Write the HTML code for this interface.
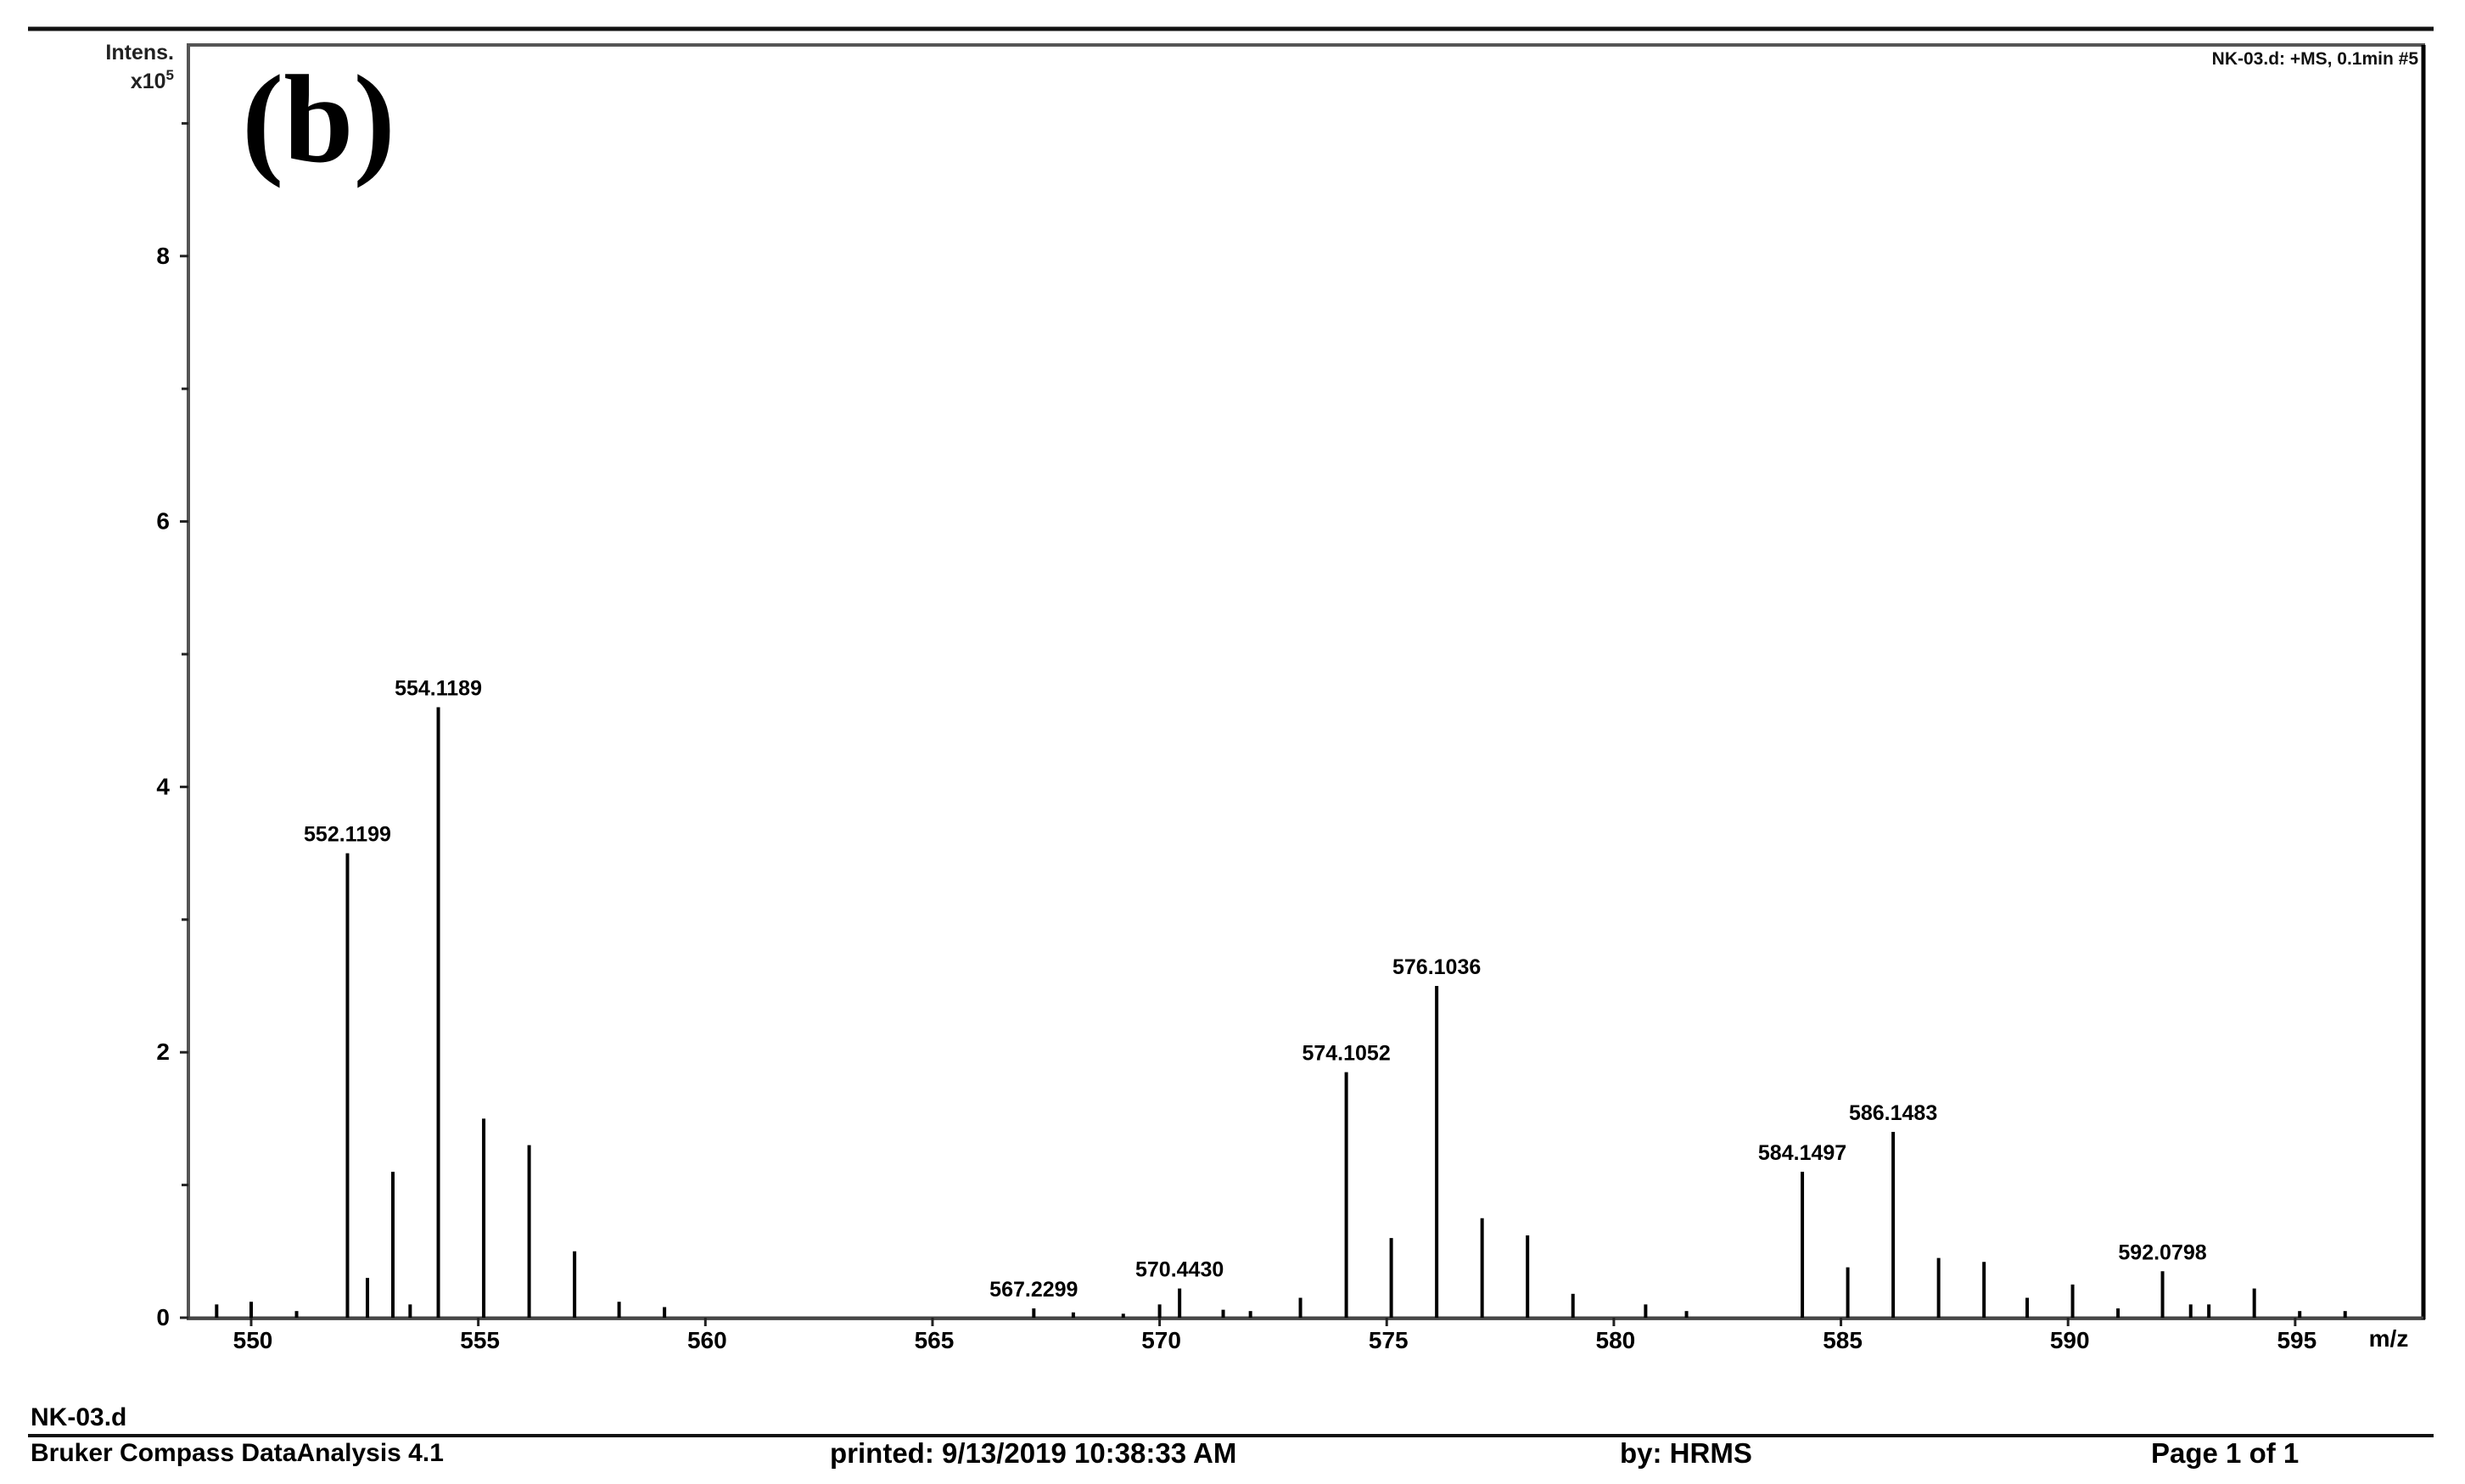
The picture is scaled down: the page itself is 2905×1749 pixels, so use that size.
<!DOCTYPE html>
<html><head><meta charset="utf-8"><style>
html,body{margin:0;padding:0;background:#fff;}
svg{display:block;font-family:"Liberation Sans",sans-serif;}
</style></head><body>
<svg width="2905" height="1749" viewBox="0 0 2905 1749" xmlns="http://www.w3.org/2000/svg">
<line x1="33" y1="34" x2="2868" y2="34" stroke="#111" stroke-width="5"/>
<rect x="222" y="53" width="2634" height="1501" fill="none" stroke="#555" stroke-width="4"/>
<line x1="2856" y1="53" x2="2856" y2="1555" stroke="#000" stroke-width="5"/>
<text x="205" y="70" font-size="25" font-weight="600" text-anchor="end" fill="#222">Intens.</text>
<text x="205" y="104" font-size="25" font-weight="600" text-anchor="end" fill="#222">x10<tspan font-size="17" dy="-10">5</tspan></text>
<text x="285" y="190" font-size="148" font-weight="bold" font-family="Liberation Serif,serif">(b)</text>
<text x="2850" y="76" font-size="21" font-weight="600" text-anchor="end" fill="#111">NK-03.d: +MS, 0.1min #5</text>
<g id="axes"></g>
<g id="peaks"></g>
<text x="2815" y="1587" font-size="28" font-weight="600" text-anchor="middle">m/z</text>
<text x="36" y="1680" font-size="30" font-weight="600">NK-03.d</text>
<line x1="33" y1="1692" x2="2868" y2="1692" stroke="#111" stroke-width="4"/>
<text x="36" y="1722" font-size="30" font-weight="600">Bruker Compass DataAnalysis 4.1</text>
<text x="978" y="1724" font-size="33" font-weight="600">printed:   9/13/2019 10:38:33 AM</text>
<text x="1909" y="1724" font-size="33" font-weight="600">by:   HRMS</text>
<text x="2535" y="1724" font-size="33" font-weight="bold">Page 1 of 1</text>
</svg>
<script>
const xTicks = [550,555,560,565,570,575,580,585,590,595];
const yTicks = [0,2,4,6,8];
const yMinor = [1,3,5,7,9];
const peakMz = [549.24,550.0,551.0,552.12,552.56,553.12,553.5,554.12,555.12,556.12,557.12,558.1,559.1,567.23,568.1,569.2,570.0,570.44,571.4,572.0,573.1,574.11,575.1,576.10,577.1,578.1,579.1,580.7,581.6,584.15,585.15,586.15,587.15,588.15,589.1,590.1,591.1,592.08,592.7,593.1,594.1,595.1,596.1];
const peakInt = [0.1,0.12,0.05,3.5,0.3,1.1,0.1,4.6,1.5,1.3,0.5,0.12,0.08,0.07,0.04,0.03,0.1,0.22,0.06,0.05,0.15,1.85,0.6,2.5,0.75,0.62,0.18,0.1,0.05,1.1,0.38,1.4,0.45,0.42,0.15,0.25,0.07,0.35,0.1,0.1,0.22,0.05,0.05];
const labelMz = [552.12,554.12,567.23,570.44,574.11,576.10,584.15,586.15,592.08];
const labelInt = [3.5,4.6,0.07,0.22,1.85,2.5,1.1,1.4,0.35];
const labelText = ["552.1199","554.1189","567.2299","570.4430","574.1052","576.1036","584.1497","586.1483","592.0798"];

const NS="http://www.w3.org/2000/svg";
const xS = m => 296 + (m-550)*53.53;
const yS = v => 1553 - v*156.4;
function mk(t,a,p){const e=document.createElementNS(NS,t);for(const k in a)e.setAttribute(k,a[k]);p.appendChild(e);return e;}
const ax=document.getElementById('axes'), pk=document.getElementById('peaks');
const base=mk('line',{x1:222,y1:yS(0),x2:2856,y2:yS(0),stroke:'#444','stroke-width':3},ax);


xTicks.forEach(t=>{
  const l=mk('line',{x1:xS(t),y1:yS(0),x2:xS(t),y2:yS(0)+10,stroke:'#222','stroke-width':3},ax);
  
  
  const tx=mk('text',{x:xS(t)+2,y:1589,'font-size':28,'font-weight':600,'text-anchor':'middle'},ax);
  
  
  tx.textContent=t;
});
yTicks.forEach(t=>{
  const l=mk('line',{x1:212,y1:yS(t),x2:222,y2:yS(t),stroke:'#222','stroke-width':3},ax);
  
  
  const tx=mk('text',{x:200,y:yS(t)+9,'font-size':28,'font-weight':600,'text-anchor':'end'},ax);
  
  
  tx.textContent=t;
});
yMinor.forEach(t=>{
  const l=mk('line',{x1:214,y1:yS(t),x2:222,y2:yS(t),stroke:'#222','stroke-width':3},ax);
  
  
});
peakMz.forEach((m,i)=>{
  const l=mk('line',{x1:xS(m),y1:yS(0),x2:xS(m),y2:yS(peakInt[i]),stroke:'#000','stroke-width':4},pk);
  
  
});
labelMz.forEach((m,i)=>{
  const tx=mk('text',{x:xS(m),y:yS(labelInt[i])-14,'font-size':25,'font-weight':600,'text-anchor':'middle'},pk);
  
  
  tx.textContent=labelText[i];
});
</script>
</body></html>
